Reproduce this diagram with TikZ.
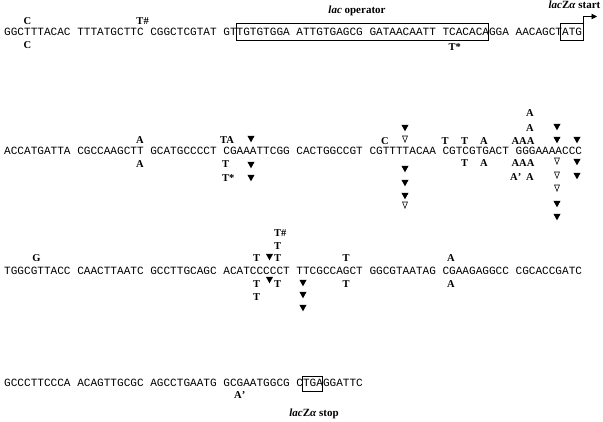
\documentclass[tikz,border=0pt]{standalone}
\usepackage{fontspec}
\setmainfont{Liberation Serif}
\newfontfamily\seqfont{Liberation Mono}
\usetikzlibrary{arrows.meta}
\begin{document}
\begin{tikzpicture}[x=1pt,y=-1pt,
  seq/.style={anchor=west,inner sep=0pt,font=\seqfont\fontsize{11.07}{13}\selectfont},
  lab/.style={inner sep=0pt,font=\bfseries\fontsize{10.5}{12}\selectfont},
  ttl/.style={inner sep=0pt,anchor=base,font=\bfseries\fontsize{11}{13}\selectfont},
  fdn/.pic={\fill (-3.6,-3.2) -- (3.6,-3.2) -- (0,3.3) -- cycle;},
  odn/.pic={\draw[line width=0.55pt] (-2.5,-3) -- (2.5,-3) -- (0,3.2) -- cycle;},
  boxline/.style={draw,line width=0.8pt}
]
\useasboundingbox (0,0) rectangle (603,422);
% ---------- row 1 ----------
\node[seq] (s1) at (4,32) {GGCTTTACAC TTTATGCTTC CGGCTCGTAT GTTGTGTGGA ATTGTGAGCG GATAACAATT TCACACAGGA AACAGCTATG};
\draw[boxline] (236.4,23) rectangle (488.7,40);
\draw[boxline] (560.5,23) rectangle (583.5,40);
\coordinate (atgne) at (583.5,23);
\coordinate (arrend) at (597,16.5);
\draw[line width=0.8pt,-{Triangle[length=5.5pt,width=5.5pt]}] (atgne) |- (arrend);
\node[ttl] (opl) at (357,14) {\textit{lac} operator};
\node[ttl] (startl) at (574.5,9) {\textit{lac}Z\textit{α} start};
\node[lab] (r1a) at (27.5,21) {C};
\node[lab] (r1b) at (27.5,45) {C};
\node[lab] (r1c) at (140,21) {T\rlap{\#}};
\node[lab] (r1d) at (452,47) {T\rlap{*}};
% ---------- row 2 ----------
\node[seq] (s2) at (4,151) {ACCATGATTA CGCCAAGCTT GCATGCCCCT CGAAATTCGG CACTGGCCGT CGTTTTACAA CGTCGTGACT GGGAAAACCC};
\node[lab] (r2a) at (140,140) {A};
\node[lab] (r2b) at (140,164) {A};
\node[lab] (r2c) at (227,140) {TA};
\node[lab] (r2d) at (225.5,164) {T};
\node[lab] (r2e) at (225.5,178) {T\rlap{*}};
\pic at (251,139) {fdn};
\pic at (251,165) {fdn};
\pic at (251,178) {fdn};
\node[lab] (r2f) at (385,141) {C};
\pic at (405,128) {fdn};
\pic at (405,139) {odn};
\pic at (405,169) {fdn};
\pic at (405,183) {fdn};
\pic at (405,196) {fdn};
\pic at (405,205) {odn};
\node[lab] (r2g) at (445,141) {T};
\node[lab] (r2h) at (464.5,141) {T};
\node[lab] (r2i) at (484,141) {A};
\node[lab] (r2j) at (464.5,163) {T};
\node[lab] (r2k) at (484,163) {A};
\node[lab] (r2l) at (523,141) {AAA};
\node[lab] (r2m) at (530,128) {A};
\node[lab] (r2n) at (530,113) {A};
\node[lab] (r2o) at (523,163) {AAA};
\node[lab] (r2p) at (514,177) {A\rlap{’}};
\node[lab] (r2q) at (530,177) {A};
\pic at (557,127) {fdn};
\pic at (557,140) {fdn};
\pic at (557,161) {odn};
\pic at (557,175) {odn};
\pic at (557,188) {odn};
\pic at (557,204) {fdn};
\pic at (557,217) {fdn};
\pic at (577,140) {fdn};
\pic at (577,162) {fdn};
\pic at (577,176) {fdn};
% ---------- row 3 ----------
\node[seq] (s3) at (4,271) {TGGCGTTACC CAACTTAATC GCCTTGCAGC ACATCCCCCT TTCGCCAGCT GGCGTAATAG CGAAGAGGCC CGCACCGATC};
\node[lab] (r3a) at (36.5,258) {G};
\node[lab] (r3b) at (256.5,258) {T};
\pic at (269.5,257) {fdn};
\node[lab] (r3c) at (277.5,258) {T};
\node[lab] (r3d) at (277.5,246) {T};
\node[lab] (r3e) at (277.5,233) {T\rlap{\#}};
\node[lab] (r3f) at (256.5,284) {T};
\pic at (269.5,280) {fdn};
\node[lab] (r3g) at (277.5,284) {T};
\node[lab] (r3h) at (256.5,297) {T};
\pic at (303,283) {fdn};
\pic at (303,295) {fdn};
\pic at (303,308) {fdn};
\node[lab] (r3i) at (346,258) {T};
\node[lab] (r3j) at (346,284) {T};
\node[lab] (r3k) at (451,258) {A};
\node[lab] (r3l) at (451,284) {A};
% ---------- row 4 ----------
\node[seq] (s4) at (4,383) {GCCCTTCCCA ACAGTTGCGC AGCCTGAATG GCGAATGGCG CTGAGGATTC};
\draw[boxline] (302.8,376) rectangle (322.7,391);
\node[lab] (r4a) at (238,395) {A\rlap{’}};
\node[ttl] (stopl) at (314,416) {\textit{lac}Z\textit{α} stop};
\end{tikzpicture}
\end{document}
